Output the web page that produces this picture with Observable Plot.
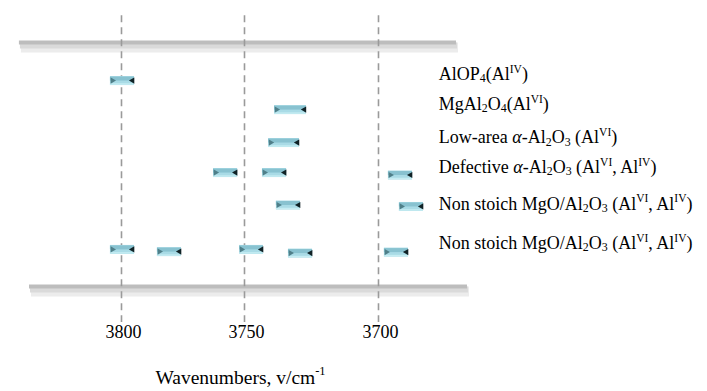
<!DOCTYPE html>
<html>
<head>
<meta charset="utf-8">
<script src="https://cdn.jsdelivr.net/npm/d3@7"></script>
<script src="https://cdn.jsdelivr.net/npm/@observablehq/plot@0.6"></script>
<style>
  html, body { margin: 0; padding: 0; background: #fff; }
  #chart svg { display: block; }
  #chart svg, #chart svg text { font-family: "Liberation Serif", "Times New Roman", serif !important; }
</style>
</head>
<body>
<div id="chart"></div>
<script>
// ---- data ----
const tickValues = [3800, 3750, 3700];
const rowLabels = [
  "AlOP_{4}(Al^{IV})",
  "MgAl_{2}O_{4}(Al^{VI})",
  "Low-area ~{α}-Al_{2}O_{3} (Al^{VI})",
  "Defective ~{α}-Al_{2}O_{3} (Al^{VI}, Al^{IV})",
  "Non stoich MgO/Al_{2}O_{3} (Al^{VI}, Al^{IV})",
  "Non stoich MgO/Al_{2}O_{3} (Al^{VI}, Al^{IV})"
];
const rowLevel = [1.31, 2.54, 3.90, 5.12, 6.62, 8.24];
// bands (wavenumber ranges, cm-1) and their vertical level in the figure
const bandFrom  = [3804.5, 3738.8, 3741.0, 3762.6, 3743.3, 3696.3, 3738.1, 3692.2, 3804.5, 3785.4, 3752.0, 3733.6, 3697.8];
const bandTo    = [3794.7, 3726.9, 3729.5, 3752.8, 3734.3, 3687.3, 3729.1, 3683.2, 3794.7, 3775.6, 3742.9, 3724.6, 3688.8];
const bandLevel = [1.56, 2.75, 4.10, 5.33, 5.33, 5.43, 6.66, 6.72, 8.48, 8.57, 8.48, 8.63, 8.59];
const xTitle = "Wavenumbers, v/cm^{-1}";

// ---- build tables ----
const bands = bandFrom.map((f, i) => ({from: f, to: bandTo[i], level: bandLevel[i]}));
const labels = rowLabels.map((t, i) => ({text: t, level: rowLevel[i]}));
const frames = [
  {level: 0, x1: 3841.5, x2: 3670.9},
  {level: 10, x1: 3837.4, x2: 3666.8}
];
const labelX = 3677.5;
const FS = 18;
const FF = "Liberation Serif";

const plot = Plot.plot({
  width: 707,
  height: 391,
  marginTop: 42,
  marginBottom: 105,
  marginLeft: 19,
  marginRight: 240,
  style: {fontFamily: FF, background: "#fff"},
  x: {type: "linear", domain: [3800, 3750, 3700], range: [121, 244, 378]},
  y: {domain: [0, 10], reverse: true, axis: null},
  marks: [
    // frame bars with soft shadow
    Plot.ruleY(frames, {y: "level", x1: "x1", x2: "x2", stroke: "#ececec", strokeWidth: 10, dy: 5, dx: 2}),
    Plot.ruleY(frames, {y: "level", x1: "x1", x2: "x2", stroke: "#dadada", strokeWidth: 6, dy: 3, dx: 1}),
    Plot.ruleY(frames, {y: "level", x1: "x1", x2: "x2", stroke: "#bdbdbd", strokeWidth: 4}),
    // dashed reference lines
    Plot.ruleX(tickValues, {y1: -1.1, y2: 11.48, stroke: "#9a9a9a", strokeWidth: 1.6, strokeDasharray: "7,5"}),
    // bands
    Plot.ruleY(bands, {y: "level", x1: "from", x2: "to", stroke: "#a9dbe6", strokeWidth: 9}),
    Plot.ruleY(bands, {y: "level", x1: "from", x2: "to", stroke: "#88c2d0", strokeWidth: 4, dy: -2}),
    Plot.ruleY(bands, {y: "level", x1: "from", x2: "to", stroke: "#c6edf3", strokeWidth: 1.5, dy: 3.5}),
    Plot.dot(bands, {x: "from", y: "level", symbol: "triangle", r: 2.3, rotate: 90, fill: "#4f7f89", dx: 2}),
    Plot.dot(bands, {x: "to", y: "level", symbol: "triangle", r: 2.3, rotate: -90, fill: "#102226", dx: -2}),
    // row labels
    Plot.text(labels, {x: () => labelX, y: "level", text: "text", textAnchor: "start", fontSize: FS, fontFamily: FF, fill: "#000"}),
    // axis
    Plot.axisX(tickValues, {anchor: "bottom", tickSize: 0, tickPadding: 39, fontSize: 18, fontFamily: FF, dx: 2, label: null, tickFormat: d => String(d), fill: "#000"}),
    Plot.text([xTitle], {frameAnchor: "bottom", lineAnchor: "bottom", dy: 97, dx: -3, fontSize: 19.5, fontFamily: FF, fill: "#000"})
  ]
});

// turn _{..} ^{..} ~{..} markup into tspans
const svgNS = "http://www.w3.org/2000/svg";
plot.querySelectorAll("text").forEach(el => {
  const s = el.textContent;
  if (!/[_^~]\{/.test(s)) return;
  const fs = parseFloat(el.getAttribute("font-size") || el.closest("[font-size]")?.getAttribute("font-size") || FS);
  el.textContent = "";
  const re = /([_^~])\{([^}]*)\}/g;
  let last = 0, m, cur = 0;
  const add = (str, kind) => {
    if (!str) return;
    const t = document.createElementNS(svgNS, "tspan");
    t.textContent = str;
    let off = 0;
    if (kind === "^") { off = -0.42 * fs; t.setAttribute("font-size", (0.64 * fs).toFixed(2)); }
    else if (kind === "_") { off = 0.12 * fs; t.setAttribute("font-size", (0.66 * fs).toFixed(2)); }
    else if (kind === "~") { t.setAttribute("font-style", "italic"); }
    if (off !== cur) { t.setAttribute("dy", (off - cur).toFixed(2)); cur = off; }
    el.appendChild(t);
  };
  while ((m = re.exec(s))) {
    add(s.slice(last, m.index), "");
    add(m[2], m[1]);
    last = re.lastIndex;
  }
  add(s.slice(last), "");
});

document.getElementById("chart").appendChild(plot);
</script>
</body>
</html>
